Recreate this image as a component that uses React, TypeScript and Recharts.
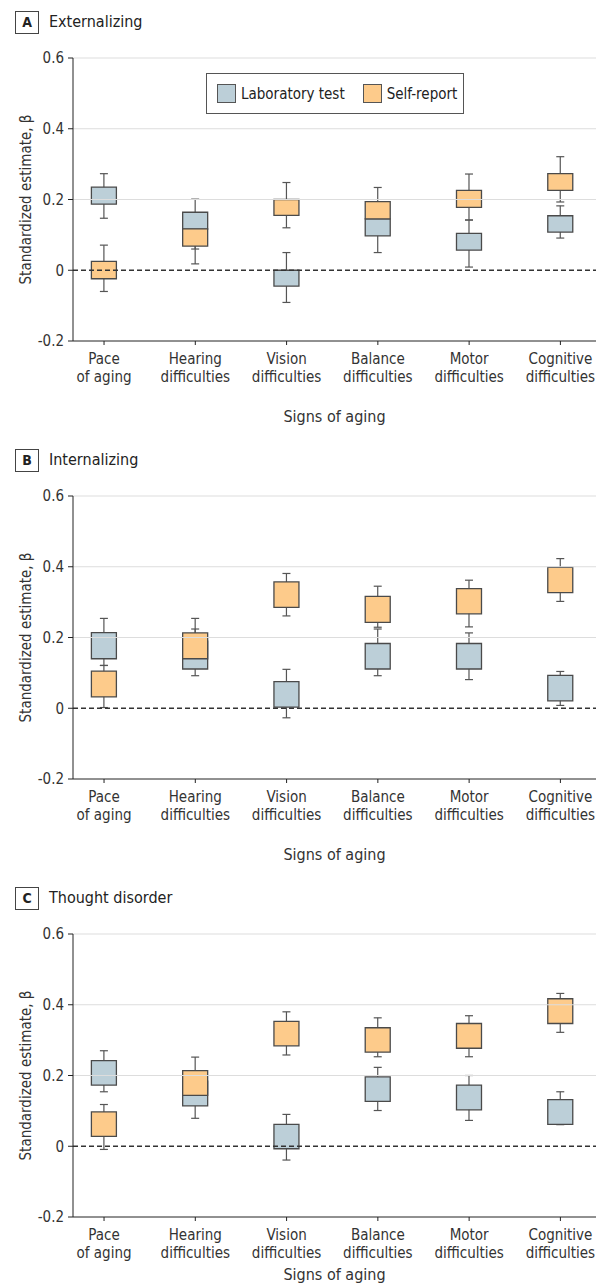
import React from "react";
import { ComposedChart, Bar, XAxis, YAxis, ReferenceLine } from "recharts";

const FONT = '"Liberation Sans Narrow", "DejaVu Sans Condensed", "Open Sans", sans-serif';
const LAB = "#bccfd8";
const SELF = "#fdcb8b";
const EDGE = "#4a4a4a";

const categories = [
  ["Pace", "of aging"],
  ["Hearing", "difficulties"],
  ["Vision", "difficulties"],
  ["Balance", "difficulties"],
  ["Motor", "difficulties"],
  ["Cognitive", "difficulties"],
];
const xTicks = [0, 1, 2, 3, 4, 5];
const yTicks = [-0.2, 0, 0.2, 0.4, 0.6];
const gridValues = [0.2, 0.4, 0.6];

// A Externalizing: [low, high]
const extLabBox = [[0.187, 0.235], [0.116, 0.164], [-0.045, 0], [0.097, 0.145], [0.057, 0.104], [0.108, 0.154]];
const extLabCI = [[0.147, 0.273], [0.06, 0.201], [-0.091, 0.05], [0.05, 0.19], [0.009, 0.142], [0.091, 0.182]];
const extSelfBox = [[-0.024, 0.025], [0.068, 0.117], [0.155, 0.2], [0.145, 0.194], [0.178, 0.226], [0.226, 0.273]];
const extSelfCI = [[-0.06, 0.071], [0.018, 0.16], [0.12, 0.248], [0.105, 0.234], [0.142, 0.272], [0.193, 0.321]];

// B Internalizing
const intLabBox = [[0.14, 0.214], [0.111, 0.19], [0.003, 0.075], [0.111, 0.183], [0.111, 0.183], [0.021, 0.093]];
const intLabCI = [[0.121, 0.254], [0.092, 0.224], [-0.027, 0.11], [0.092, 0.224], [0.081, 0.213], [0.008, 0.104]];
const intSelfBox = [[0.032, 0.105], [0.14, 0.213], [0.285, 0.357], [0.243, 0.316], [0.267, 0.338], [0.327, 0.398]];
const intSelfCI = [[0.002, 0.121], [0.12, 0.254], [0.261, 0.381], [0.229, 0.345], [0.23, 0.362], [0.302, 0.423]];

// C Thought disorder
const thoLabBox = [[0.173, 0.242], [0.114, 0.184], [-0.007, 0.062], [0.127, 0.196], [0.103, 0.173], [0.062, 0.132]];
const thoLabCI = [[0.154, 0.27], [0.079, 0.205], [-0.039, 0.09], [0.101, 0.223], [0.073, 0.2], [0.061, 0.154]];
const thoSelfBox = [[0.028, 0.097], [0.144, 0.214], [0.284, 0.353], [0.266, 0.335], [0.277, 0.347], [0.347, 0.417]];
const thoSelfCI = [[-0.009, 0.118], [0.12, 0.252], [0.258, 0.38], [0.253, 0.363], [0.253, 0.369], [0.322, 0.432]];

const buildRows = (labBox, labCI, selfBox, selfCI) =>
  xTicks.map((x, i) => ({
    x,
    labBox: labBox[i],
    labCI: labCI[i],
    selfBox: selfBox[i],
    selfCI: selfCI[i],
  }));

const Whisker = (props: any) => {
  const { x, y, width, height } = props;
  if (x == null || y == null) return null;
  const cx = x + width / 2;
  return (
    <g stroke="#555" strokeWidth={1.2}>
      <line x1={cx} x2={cx} y1={y} y2={y + height} />
      <line x1={cx - 4} x2={cx + 4} y1={y} y2={y} />
      <line x1={cx - 4} x2={cx + 4} y1={y + height} y2={y + height} />
    </g>
  );
};

const XTick = (props: any) => {
  const { x, y, payload } = props;
  const lines = categories[payload.value] || ["", ""];
  return (
    <text x={x} y={y} textAnchor="middle" fill="#333" fontSize={15} fontFamily={FONT}>
      <tspan x={x} y={y + 17}>{lines[0]}</tspan>
      <tspan x={x} y={y + 35}>{lines[1]}</tspan>
    </text>
  );
};

const axisIds = ["a", "b", "c", "d"];

function Panel({ letter, title, rows, top, height, bottom, titleGap, legend }) {
  return (
    <div style={{ position: "absolute", left: 0, top, width: 602, height }}>
      <div
        style={{
          position: "absolute",
          left: 15,
          top: 11,
          width: 22,
          height: 21,
          border: "1px solid #444",
          fontFamily: FONT,
          fontWeight: 700,
          fontSize: 14,
          lineHeight: "21px",
          textAlign: "center",
          color: "#222",
        }}
      >
        {letter}
      </div>
      <div
        style={{
          position: "absolute",
          left: 49,
          top: 11,
          fontFamily: FONT,
          fontSize: 16,
          lineHeight: "22px",
          color: "#222",
        }}
      >
        {title}
      </div>
      <ComposedChart
        width={602}
        height={height}
        data={rows}
        margin={{ top: 58, right: 6, bottom, left: 0 }}
      >
        {axisIds.map((id, k) => (
          <XAxis
            key={id}
            xAxisId={id}
            dataKey="x"
            type="number"
            domain={[-0.34, 5.39]}
            ticks={xTicks}
            hide={k > 0}
            stroke="#222"
            tickSize={4}
            tick={<XTick />}
            interval={0}
            label={
              k === 0
                ? {
                    content: (p: any) => {
                      const vb = p.viewBox;
                      return (
                        <text
                          x={vb.x + vb.width / 2}
                          y={vb.y + titleGap}
                          textAnchor="middle"
                          fill="#333"
                          fontSize={16}
                          fontFamily={FONT}
                        >
                          Signs of aging
                        </text>
                      );
                    },
                  }
                : undefined
            }
          />
        ))}
        <YAxis
          type="number"
          domain={[-0.2, 0.6]}
          ticks={yTicks}
          width={73}
          stroke="#222"
          tickSize={5}
          tickMargin={4}
          tick={{ fill: "#333", fontSize: 15, fontFamily: FONT }}
          tickFormatter={(v) => (v === 0 ? "0" : v.toFixed(1))}
          label={{
            content: (p: any) => {
              const vb = p.viewBox;
              const cy = vb.y + vb.height / 2;
              return (
                <text
                  x={26}
                  y={cy}
                  transform={`rotate(-90, 26, ${cy})`}
                  textAnchor="middle"
                  dominantBaseline="central"
                  fill="#333"
                  fontSize={15}
                  fontFamily={FONT}
                >
                  Standardized estimate, β
                </text>
              );
            },
          }}
        />
        {gridValues.map((v) => (
          <ReferenceLine key={v} y={v} xAxisId="a" stroke="#dddddd" strokeWidth={1.2} />
        ))}
        <ReferenceLine y={0} xAxisId="a" stroke="#333" strokeDasharray="5 3" strokeWidth={1.3} />
        <Bar xAxisId="a" dataKey="labCI" barSize={25} shape={<Whisker />} isAnimationActive={false} />
        <Bar xAxisId="b" dataKey="selfCI" barSize={25} shape={<Whisker />} isAnimationActive={false} />
        <Bar
          xAxisId="c"
          dataKey="labBox"
          barSize={25}
          fill={LAB}
          stroke={EDGE}
          strokeWidth={1.3}
          isAnimationActive={false}
        />
        <Bar
          xAxisId="d"
          dataKey="selfBox"
          barSize={25}
          fill={SELF}
          stroke={EDGE}
          strokeWidth={1.3}
          isAnimationActive={false}
        />
      </ComposedChart>
      {legend && (
        <div
          style={{
            position: "absolute",
            left: 206,
            top: 73,
            width: 256,
            height: 39,
            border: "1px solid #555",
            background: "#fff",
            fontFamily: FONT,
            fontSize: 15,
            color: "#222",
            display: "flex",
            alignItems: "center",
          }}
        >
          <span style={{ marginLeft: 10, width: 17, height: 17, background: LAB, border: "1px solid #555" }} />
          <span style={{ marginLeft: 5 }}>Laboratory test</span>
          <span style={{ marginLeft: 18, width: 17, height: 17, background: SELF, border: "1px solid #555" }} />
          <span style={{ marginLeft: 5 }}>Self-report</span>
        </div>
      )}
    </div>
  );
}

export default function App() {
  return (
    <div style={{ position: "absolute", left: 0, top: 0, width: 602, height: 1287, overflow: "hidden", background: "#fff" }}>
      <Panel letter="A" title="Externalizing" rows={buildRows(extLabBox, extLabCI, extSelfBox, extSelfCI)} top={0} height={438} bottom={67} titleGap={81} legend />
      <Panel letter="B" title="Internalizing" rows={buildRows(intLabBox, intLabCI, intSelfBox, intSelfCI)} top={438} height={438} bottom={67} titleGap={81} legend={false} />
      <Panel letter="C" title="Thought disorder" rows={buildRows(thoLabBox, thoLabCI, thoSelfBox, thoSelfCI)} top={876} height={411} bottom={40} titleGap={63} legend={false} />
    </div>
  );
}
